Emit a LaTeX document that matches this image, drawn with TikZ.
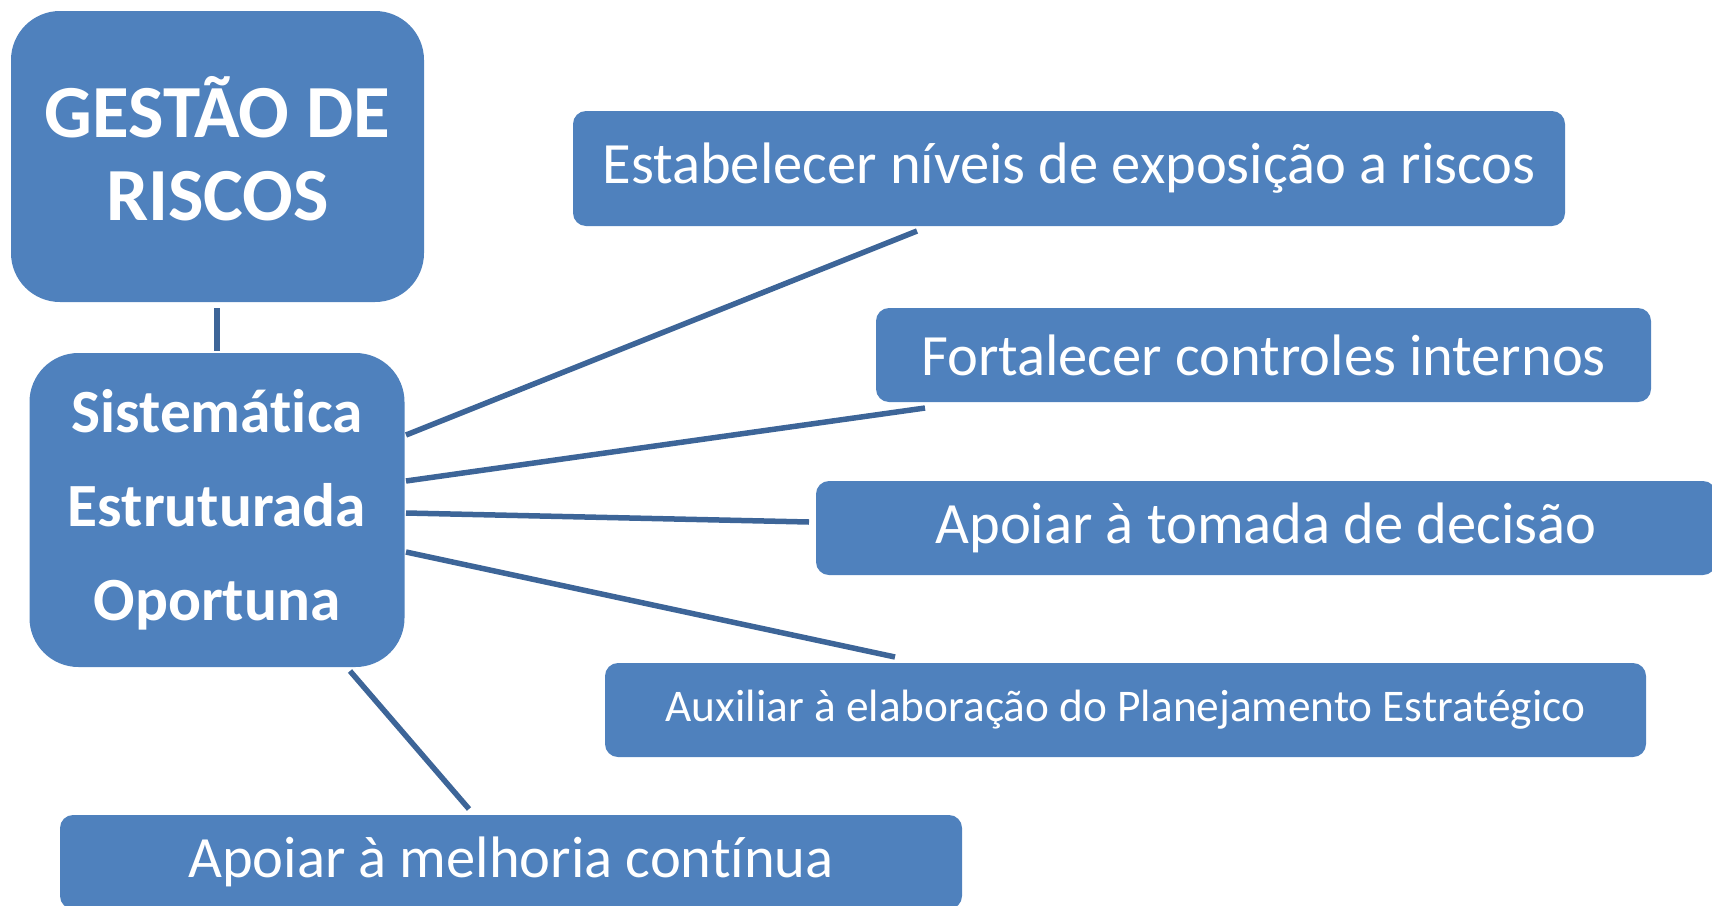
\documentclass[tikz,border=0pt]{standalone}
\usepackage{fontspec}
\setmainfont{Carlito}[Ligatures=NoCommon]
\definecolor{boxblue}{HTML}{4F81BD}
\definecolor{linkblue}{HTML}{3D6598}
\tikzset{
  box/.style={fill=boxblue, text=white, rounded corners=13pt, inner sep=0pt, align=center},
  bigbox/.style={box, rounded corners=49pt},
  link/.style={draw=linkblue, line width=5.5pt},
  regtext/.style={font=\fontsize{58.5}{66}\selectfont},
}
\begin{document}
\begin{tikzpicture}[x=1pt,y=-1pt]
\useasboundingbox (0,0) rectangle (1712,905);
\node[bigbox, minimum width=413pt, minimum height=291pt] (gr) at (217.5,156.5) {};
\node[text=white, align=center, inner sep=0pt, font=\bfseries\fontsize{75}{83}\selectfont] (grt) at (217.5,149) {GESTÃO DE\\RISCOS};
\node[bigbox, minimum width=375pt, minimum height=314pt, font=\bfseries\fontsize{61.4}{94}\selectfont] (sis) at (217,510) {Sistemática\\Estruturada\\Oportuna};
\node[box, regtext, minimum width=992pt, minimum height=115pt] (est) at (1069,168.5) {Estabelecer níveis de exposição a riscos};
\node[box, regtext, minimum width=775pt, minimum height=94pt] (for) at (1263.5,355) {Fortalecer controles internos};
\node[box, regtext, minimum width=900pt, minimum height=94pt] (tom) at (1266,528) {Apoiar à tomada de decisão};
\node[box, font=\fontsize{45.3}{52}\selectfont, minimum width=1041pt, minimum height=94pt] (aux) at (1125.5,710) {Auxiliar à elaboração do Planejamento Estratégico};
\node[box, regtext, minimum width=902pt, minimum height=94pt] (mel) at (511,862) {Apoiar à melhoria contínua};
% connector ends
\coordinate (g1) at (217,308);
\coordinate (g2) at (217,351);
\coordinate (s1) at (406,435);
\coordinate (e1) at (917,231);
\coordinate (s2) at (406,481);
\coordinate (f1) at (925,408);
\coordinate (s3) at (406,513);
\coordinate (t1) at (809,522);
\coordinate (s4) at (406,552);
\coordinate (a1) at (895,657);
\coordinate (s5) at (350,671);
\coordinate (m1) at (469,809);
\draw[link] (g1) -- (g2);
\draw[link] (s1) -- (e1);
\draw[link] (s2) -- (f1);
\draw[link] (s3) -- (t1);
\draw[link] (s4) -- (a1);
\draw[link] (s5) -- (m1);
\end{tikzpicture}
\end{document}
